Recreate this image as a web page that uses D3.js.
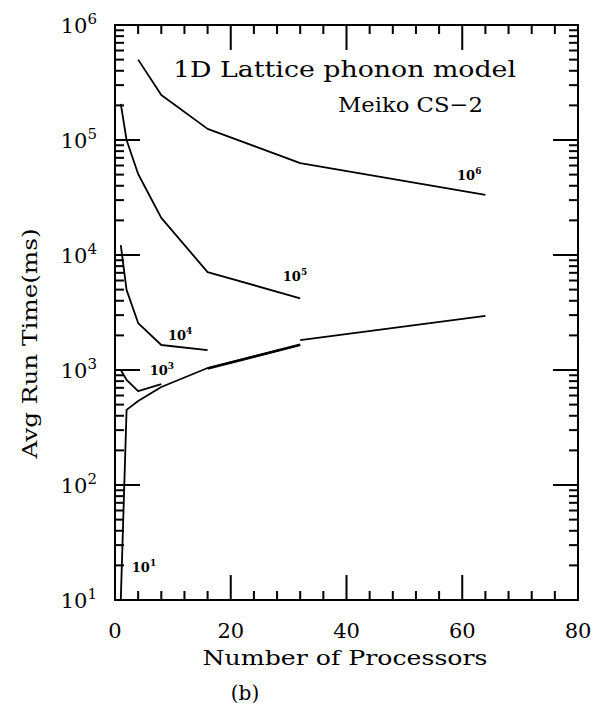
<!DOCTYPE html>
<meta charset="utf-8">
<style>
body { margin: 0; background: #fff; }
text { font-family: "DejaVu Serif", serif; fill: #000; }
.clabel { font-size: 13px; font-weight: bold; }
</style>
<script src="https://cdn.jsdelivr.net/npm/d3@7"></script>
<body>
<script>

// problem sizes and measured average run times (ms) vs number of processors
var p_n6 = [4, 8, 16, 32, 64];
var t_n6 = [5.0e5, 2.46e5, 1.25e5, 6.3e4, 3.33e4];

var p_n5 = [1, 2, 4, 8, 16, 32];
var t_n5 = [2.06e5, 1.0e5, 5.06e4, 2.1e4, 7.1e3, 4.2e3];

var p_n4 = [1, 2, 4, 8, 16];
var t_n4 = [1.22e4, 4.97e3, 2.56e3, 1.65e3, 1.49e3];

var p_n3 = [1, 2, 4, 8];
var t_n3 = [1000, 820, 656, 755];

var p_n1 = [1, 2, 4, 8, 16, 32];
var t_n1 = [10, 450, 537, 711, 1040, 1650];

// overlapping / continued branch of the small-size curves
var p_ov = [16, 32];
var t_ov = [1030, 1660];
var p_up = [32, 64];
var t_up = [1820, 2950];

var xTicks = [0, 20, 40, 60, 80];
var yExps = [1, 2, 3, 4, 5, 6];

var margin = {top: 25, right: 15, bottom: 113, left: 115},
    width = 593 - margin.left - margin.right,
    height = 713 - margin.top - margin.bottom;

var svg = d3.select("body").append("svg")
    .attr("width", 593)
    .attr("height", 713)
    .append("g")
    .attr("transform", "translate(" + margin.left + "," + margin.top + ")");

var x = d3.scaleLinear().domain([0, 80]).range([0, width]);
var y = d3.scaleLog().domain([10, 1e6]).range([height, 0]);

var majorLen = 25, minorLen = 9, tw = 2;

svg.append("rect")
  .attr("x", 0).attr("y", 0).attr("width", width).attr("height", height)
  .attr("stroke", "#000").attr("stroke-width", 2).attr("fill", "none");

// tick labels
svg.selectAll(".xlab").data(xTicks).enter().append("text")
  .attr("class", "xlab")
  .attr("x", function(d) { return x(d); })
  .attr("y", height + 38)
  .attr("text-anchor", "middle")
  .style("font-size", "21px")
  .text(function(d) { return d; });

var ylab = svg.selectAll(".ylab").data(yExps).enter().append("text")
  .attr("class", "ylab")
  .attr("x", -18)
  .attr("y", function(d) { return y(Math.pow(10, d)) + 8; })
  .attr("text-anchor", "end")
  .style("font-size", "21px");
ylab.append("tspan").text("10");
ylab.append("tspan").attr("dy", -9).style("font-size", "15px").text(function(d) { return d; });

// axis titles
svg.append("text")
  .attr("x", 230).attr("y", height + 65)
  .attr("text-anchor", "middle")
  .attr("textLength", 285).attr("lengthAdjust", "spacingAndGlyphs")
  .style("font-size", "20px")
  .text("Number of Processors");

svg.append("text")
  .attr("x", 130).attr("y", height + 100)
  .attr("text-anchor", "middle")
  .style("font-size", "20px")
  .text("(b)");

svg.append("text")
  .attr("transform", "translate(-78," + (height / 2 + 31) + ") rotate(-90)")
  .attr("text-anchor", "middle")
  .attr("textLength", 230).attr("lengthAdjust", "spacingAndGlyphs")
  .style("font-size", "20px")
  .text("Avg Run Time(ms)");

// inset titles
svg.append("text")
  .attr("x", 58).attr("y", 52)
  .attr("textLength", 343).attr("lengthAdjust", "spacingAndGlyphs")
  .style("font-size", "22px")
  .text("1D Lattice phonon model");

svg.append("text")
  .attr("x", 223).attr("y", 87)
  .attr("textLength", 145).attr("lengthAdjust", "spacingAndGlyphs")
  .style("font-size", "21px")
  .text("Meiko CS\u22122");

// curves
var line = d3.line()
  .x(function(d) { return x(d[0]); })
  .y(function(d) { return y(d[1]); });

var series = [
  {p: p_n6, t: t_n6, w: 1.8},
  {p: p_n5, t: t_n5, w: 1.8},
  {p: p_n4, t: t_n4, w: 1.8},
  {p: p_n3, t: t_n3, w: 1.8},
  {p: p_n1, t: t_n1, w: 1.8},
  {p: p_ov, t: t_ov, w: 2.6},
  {p: p_up, t: t_up, w: 1.8}
];

svg.selectAll(".curve").data(series).enter().append("path")
  .attr("class", "curve")
  .attr("fill", "none")
  .attr("stroke", "#000")
  .attr("stroke-linejoin", "round")
  .attr("stroke-width", function(d) { return d.w; })
  .attr("d", function(d) { return line(d3.zip(d.p, d.t)); });

// curve labels (problem size)
var curveLabels = [
  {n: 6, px: 59.1, t: 4.49e4},
  {n: 5, px: 29.0, t: 5.94e3},
  {n: 4, px: 9.15, t: 1.82e3},
  {n: 3, px: 6.0, t: 905},
  {n: 1, px: 2.9, t: 17.5}
];
var cl = svg.selectAll(".clabel").data(curveLabels).enter().append("text")
  .attr("class", "clabel")
  .attr("x", function(d) { return x(d.px); })
  .attr("y", function(d) { return y(d.t); });
cl.append("tspan").text("10");
cl.append("tspan").attr("dy", -6).style("font-size", "9px").text(function(d) { return d.n; });

// tick marks, all pointing inwards on the four sides, drawn as thin bars
var xTickData = d3.range(0, 81, 4).map(function(d) {
  return {v: d, len: d % 20 == 0 ? majorLen : minorLen};
});
var yTickData = [];
yExps.forEach(function(e) {
  yTickData.push({v: Math.pow(10, e), len: majorLen});
  if (e < 6) for (var k = 2; k <= 9; k++) yTickData.push({v: k * Math.pow(10, e), len: minorLen});
});

var tg = svg.append("g").attr("fill", "#000");
tg.selectAll(".xbot").data(xTickData).enter().append("rect")
  .attr("x", function(d) { return x(d.v) - tw / 2; })
  .attr("y", function(d) { return height - d.len; })
  .attr("width", tw)
  .attr("height", function(d) { return d.len; });
tg.selectAll(".xtop").data(xTickData).enter().append("rect")
  .attr("x", function(d) { return x(d.v) - tw / 2; })
  .attr("y", 0)
  .attr("width", tw)
  .attr("height", function(d) { return d.len; });
tg.selectAll(".yleft").data(yTickData).enter().append("rect")
  .attr("x", 0)
  .attr("y", function(d) { return y(d.v) - tw / 2; })
  .attr("width", function(d) { return d.len; })
  .attr("height", tw);
tg.selectAll(".yright").data(yTickData).enter().append("rect")
  .attr("x", function(d) { return width - d.len; })
  .attr("y", function(d) { return y(d.v) - tw / 2; })
  .attr("width", function(d) { return d.len; })
  .attr("height", tw);

</script>
</body>
